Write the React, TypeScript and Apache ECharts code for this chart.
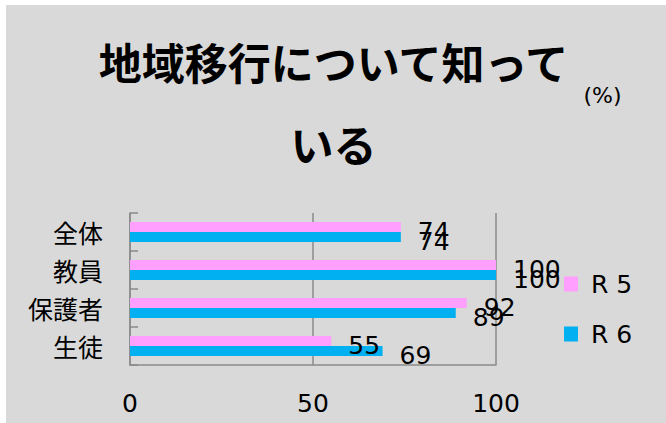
import React, { useEffect, useRef } from "react";
import * as echarts from "echarts";

const categories = ["全体", "教員", "保護者", "生徒"];
const seriesNames = ["R 5", "R 6"];
const r5Values = [74, 100, 92, 55];
const r6Values = [74, 100, 89, 69];
const xMin = 0;
const xMax = 100;
const xInterval = 50;
const titleText = "地域移行について知って\nいる";
const unitText = "(%)";

const PINK = "#ff9fff";
const BLUE = "#00b0f0";
const GRID = "#8a8a8a";
const BG = "#d9d9d9";
const NUM_FONT = "DejaVu Sans";
const JP_FONT = "Noto Sans CJK JP";

export default function App() {
  const ref = useRef<HTMLDivElement>(null);
  useEffect(() => {
    if (!ref.current) return;
    const chart = echarts.init(ref.current, undefined, { renderer: "svg" });
    const labelStyle = {
      show: true,
      position: "right" as const,
      distance: 17,
      offset: [0, 4],
      color: "#000",
      fontFamily: NUM_FONT,
      fontSize: 25,
    };
    chart.setOption({
      animation: false,
      backgroundColor: BG,
      graphic: [
        {
          type: "text",
          x: 327.5,
          y: 97,
          style: {
            text: titleText,
            fontFamily: JP_FONT,
            fontWeight: "bold",
            fontSize: 43,
            lineHeight: 82,
            fill: "#000",
            textAlign: "center",
            textVerticalAlign: "middle",
          },
        },
        {
          type: "text",
          x: 596.5,
          y: 90,
          style: {
            text: unitText,
            fontFamily: NUM_FONT,
            fontSize: 22,
            fill: "#000",
            textAlign: "center",
            textVerticalAlign: "middle",
          },
        },
      ],
      legend: {
        orient: "vertical",
        left: 558,
        top: 265,
        padding: 0,
        itemWidth: 14,
        itemHeight: 15,
        itemGap: 22,
        icon: "rect",
        data: seriesNames,
        textStyle: {
          fontFamily: NUM_FONT,
          fontSize: 25,
          lineHeight: 24,
          color: "#000",
          padding: [4, 0, 0, 8],
        },
      },
      grid: { left: 124, right: 170, top: 208, bottom: 58, containLabel: false },
      xAxis: {
        type: "value",
        min: xMin,
        max: xMax,
        interval: xInterval,
        axisLine: { show: true, lineStyle: { color: GRID, width: 1.5 } },
        axisTick: { show: false },
        splitLine: { show: true, lineStyle: { color: GRID, width: 1.5 } },
        axisLabel: {
          margin: 26,
          color: "#000",
          fontFamily: NUM_FONT,
          fontSize: 25,
        },
      },
      yAxis: {
        type: "category",
        data: categories,
        inverse: true,
        axisLine: { show: true, lineStyle: { color: GRID, width: 1.5 } },
        axisTick: { show: true, inside: true, length: 8, lineStyle: { color: GRID, width: 1.5 } },
        axisLabel: {
          margin: 27,
          color: "#000",
          fontFamily: JP_FONT,
          fontSize: 25,
          padding: [14, 0, 0, 0],
        },
      },
      series: [
        {
          name: seriesNames[0],
          type: "bar",
          data: r5Values,
          barWidth: 10,
          barGap: "0%",
          itemStyle: { color: PINK },
          label: labelStyle,
        },
        {
          name: seriesNames[1],
          type: "bar",
          data: r6Values,
          barWidth: 10,
          barGap: "0%",
          itemStyle: { color: BLUE },
          label: labelStyle,
        },
      ],
    });
    return () => chart.dispose();
  }, []);
  return (
    <div style={{ position: "absolute", left: 0, top: 0, width: 666, height: 423, background: "#fff" }}>
      <div ref={ref} style={{ position: "absolute", left: 6, top: 5, width: 660, height: 418 }} />
    </div>
  );
}
